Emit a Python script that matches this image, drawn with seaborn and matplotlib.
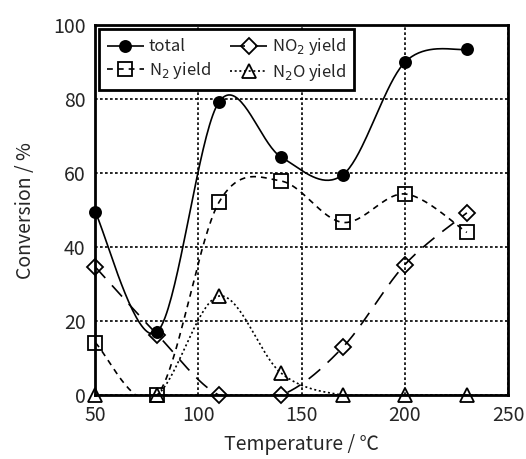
import numpy as np
import pandas as pd
import matplotlib
matplotlib.use('Agg')
import matplotlib.pyplot as plt
from matplotlib.lines import Line2D
import seaborn as sns

# Data
temperature = [50, 80, 110, 140, 170, 200, 230]
total = [49.5, 17.1, 79.3, 64.4, 59.6, 90.0, 93.5]
n2_yield = [14.2, 0, 52.2, 57.9, 46.7, 54.4, 44.0]
no2_yield = [34.7, 16.4, 0, 0, 13.0, 35.3, 49.3]
n2o_yield = [0, 0, 26.8, 6.0, 0, 0, 0]

x_ticks = [50, 100, 150, 200, 250]
y_ticks = [0, 20, 40, 60, 80, 100]


# Excel-like smoothed line (Catmull-Rom as cubic Bezier segments)
def smooth(xs, ys, steps=40):
    p = np.column_stack([xs, ys]).astype(float)
    n = len(p)
    out = []
    t = np.linspace(0, 1, steps)[:, None]
    for i in range(n - 1):
        p0 = p[max(i - 1, 0)]
        p1 = p[i]
        p2 = p[i + 1]
        p3 = p[min(i + 2, n - 1)]
        c1 = p1 + (p2 - p0) / 6
        c2 = p2 - (p3 - p1) / 6
        seg = ((1 - t) ** 3) * p1 + 3 * ((1 - t) ** 2) * t * c1 \
            + 3 * (1 - t) * t ** 2 * c2 + t ** 3 * p2
        out.append(seg if i == 0 else seg[1:])
    out = np.vstack(out)
    return out[:, 0], out[:, 1]


sns.set_style('white')
plt.rcParams['font.family'] = ['Noto Sans CJK JP', 'DejaVu Sans']

fig = plt.figure(figsize=(5.26, 4.59), dpi=100)
ax = fig.add_axes([0.181, 0.139, 0.785, 0.806])

series = [
    ('total', total, 'o', (0, ()), 'black'),
    ('N$_2$ yield', n2_yield, 's', (0, (3.5, 3)), 'none'),
    ('NO$_2$ yield', no2_yield, 'D', (0, (9, 6)), 'none'),
    ('N$_2$O yield', n2o_yield, '^', (0, (1.2, 1.6)), 'none'),
]
msize = {'o': 8, 's': 10, 'D': 8, '^': 10}

handles = []
for label, vals, mk, ls, fc in series:
    sx, sy = smooth(temperature, vals)
    df = pd.DataFrame({'x': sx, 'y': sy})
    sns.lineplot(data=df, x='x', y='y', ax=ax, color='black', linestyle=ls,
                 linewidth=1.2, sort=False, estimator=None)
    ax.plot(temperature, vals, linestyle='none', marker=mk, markersize=msize[mk],
            markerfacecolor=fc, markeredgecolor='black', markeredgewidth=1.3,
            clip_on=False, zorder=5)
    handles.append(Line2D([0], [0], color='black', linestyle=ls, linewidth=1.2,
                          marker=mk, markersize=msize[mk], markerfacecolor=fc,
                          markeredgecolor='black', markeredgewidth=1.3, label=label))

ax.set_xlim(50, 250)
ax.set_ylim(0, 100)
ax.set_xticks(x_ticks)
ax.set_yticks(y_ticks)
ax.grid(True, color='black', linestyle=(0, (1.6, 1.4)), linewidth=1.2)
ax.tick_params(axis='both', direction='in', length=5, width=1.5, labelsize=14)
ax.tick_params(axis='x', pad=7)
ax.tick_params(axis='y', pad=7)
for s in ax.spines.values():
    s.set_linewidth(2)
    s.set_color('black')

ax.set_xlabel('Temperature / ℃', fontsize=14, labelpad=6)
ax.set_ylabel('Conversion / %', fontsize=14, labelpad=12)

leg = ax.legend(handles=handles, ncol=2, loc='upper left', fontsize=12,
                frameon=True, fancybox=False, edgecolor='black',
                bbox_to_anchor=(0.01, 0.99), borderaxespad=0,
                handlelength=2.2, handletextpad=0.3, columnspacing=1.2,
                labelspacing=0.25, borderpad=0.45)
leg.get_frame().set_linewidth(2)
leg.get_frame().set_alpha(1)
leg.set_zorder(10)

fig.savefig('out.png', dpi=100)
